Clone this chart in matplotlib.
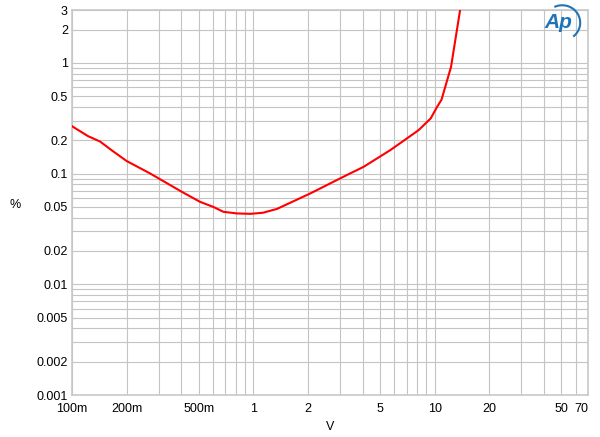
import numpy as np
import matplotlib.pyplot as plt
from matplotlib.ticker import FixedLocator, NullFormatter
from matplotlib.patches import Arc

plt.rcParams['font.family'] = ['Liberation Sans', 'DejaVu Sans']

# THD+N (%) vs output voltage (V)
volts = [0.1, 0.1225, 0.1427, 0.165, 0.2, 0.269, 0.403, 0.508, 0.602, 0.683,
         0.81, 0.96, 1.13, 1.35, 2.06, 2.65, 3.42, 4.05, 5.69, 7.03, 8.15,
         9.5, 10.3, 10.9, 12.3, 13.8]
thdn = [0.268, 0.218, 0.195, 0.163, 0.13, 0.1005, 0.0685, 0.0556, 0.050, 0.0452,
        0.0437, 0.0433, 0.0443, 0.048, 0.0662, 0.0815, 0.1005, 0.115, 0.163, 0.208, 0.247,
        0.315, 0.40, 0.465, 0.92, 3.0]

xticks = [0.1, 0.2, 0.5, 1, 2, 5, 10, 20, 50, 70]
xlabels = ['100m', '200m', '500m', '1', '2', '5', '10', '20', '50', '70']
yticks = [0.001, 0.002, 0.005, 0.01, 0.02, 0.05, 0.1, 0.2, 0.5, 1, 2, 3]
ylabels = ['0.001', '0.002', '0.005', '0.01', '0.02', '0.05', '0.1', '0.2', '0.5', '1', '2', '3']

fig = plt.figure(figsize=(6.0, 4.37), dpi=100)
ax = fig.add_axes([0.12, 0.096, 0.86, 0.881])

ax.plot(volts, thdn, color='#ff0000', lw=1.5, zorder=3)

ax.set_xscale('log')
ax.set_yscale('log')
ax.set_xlim(0.1, 70)
ax.set_ylim(0.001, 3)

xminor = [v * d for d in [0.1, 1, 10] for v in range(1, 10) if v * d <= 70]
yminor = [v * d for d in [0.001, 0.01, 0.1, 1] for v in range(1, 10) if v * d <= 3]
ax.xaxis.set_major_locator(FixedLocator(xticks))
ax.xaxis.set_minor_locator(FixedLocator(xminor))
ax.yaxis.set_major_locator(FixedLocator(yticks))
ax.yaxis.set_minor_locator(FixedLocator(yminor))
ax.set_xticklabels(xlabels)
ax.set_yticklabels(ylabels)
ax.xaxis.set_minor_formatter(NullFormatter())
ax.yaxis.set_minor_formatter(NullFormatter())
ax.get_xticklabels()[-1].set_horizontalalignment('right')

ax.grid(True, which='both', color='#c4c4c4', lw=0.8)
ax.tick_params(which='both', length=0, labelsize=9)
ax.tick_params(axis='x', pad=6)
ax.tick_params(axis='y', pad=3)
for s in ax.spines.values():
    s.set_color('#c8c8c8')
    s.set_linewidth(1.2)

ax.set_xlabel('V', fontsize=9, labelpad=4)
fig.text(15 / 600, 1 - 205 / 437, '%', fontsize=9, ha='center', va='center')

# Ap logo
fig.text(0.93, 0.948, 'Ap', color='#1f74b8', fontsize=15, style='italic',
         fontweight='bold', ha='center', va='center')
fig.patches.append(Arc((0.937, 0.948), 0.06, 0.08, theta1=-60, theta2=110,
                       transform=fig.transFigure, color='#1f74b8', lw=1.5))

fig.savefig('out.png', dpi=100)
